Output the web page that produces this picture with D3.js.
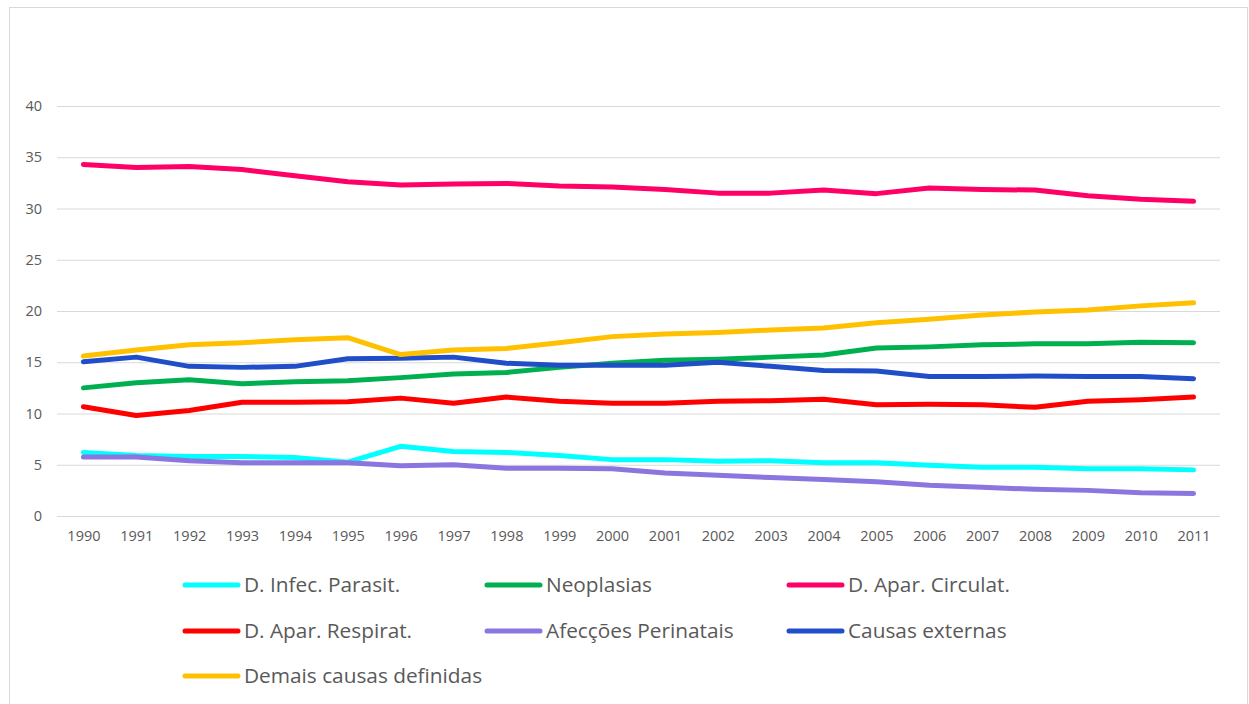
<!DOCTYPE html>
<html>
<head>
<meta charset="utf-8">
<script src="https://cdn.jsdelivr.net/npm/d3@7"></script>
<style>
  body { margin: 0; background: #fff; }
  text { font-family: "Open Sans", sans-serif; fill: #595959; }
</style>
</head>
<body>
<div id="chart"></div>
<script>
// Data
var years = ["1990","1991","1992","1993","1994","1995","1996","1997","1998","1999","2000",
             "2001","2002","2003","2004","2005","2006","2007","2008","2009","2010","2011"];

var infecParasit = [6.2,5.9,5.8,5.8,5.7,5.25,6.8,6.3,6.2,5.9,5.5,5.5,5.35,5.4,5.2,5.2,4.95,4.75,4.75,4.6,4.6,4.5];
var neoplasias   = [12.5,13.0,13.3,12.9,13.1,13.2,13.5,13.85,14.0,14.5,14.9,15.2,15.3,15.5,15.7,16.4,16.5,16.7,16.8,16.8,16.95,16.9];
var circulat     = [34.3,34.0,34.1,33.8,33.2,32.6,32.3,32.4,32.45,32.2,32.1,31.85,31.5,31.5,31.8,31.45,32.0,31.85,31.8,31.25,30.9,30.7];
var respirat     = [10.65,9.8,10.3,11.1,11.1,11.15,11.5,11.0,11.6,11.2,11.0,11.0,11.2,11.25,11.4,10.85,10.9,10.85,10.6,11.2,11.35,11.6];
var perinatais   = [5.75,5.75,5.4,5.2,5.2,5.2,4.9,5.0,4.65,4.65,4.6,4.2,3.97,3.75,3.55,3.35,3.0,2.8,2.6,2.5,2.27,2.2];
var causasExt    = [15.05,15.5,14.6,14.5,14.6,15.35,15.4,15.5,14.9,14.7,14.7,14.7,15.0,14.6,14.2,14.15,13.6,13.6,13.65,13.6,13.6,13.4];
var demais       = [15.6,16.2,16.7,16.9,17.2,17.4,15.75,16.2,16.35,16.9,17.5,17.75,17.9,18.15,18.35,18.85,19.2,19.6,19.9,20.1,20.5,20.8];

var seriesNames  = ["D. Infec. Parasit.","Neoplasias","D. Apar. Circulat.","D. Apar. Respirat.","Afecções Perinatais","Causas externas","Demais causas definidas"];
var seriesValues = [infecParasit, neoplasias, circulat, respirat, perinatais, causasExt, demais];
var seriesColors = ["#00FFFF","#00B050","#FF0066","#FF0000","#8B76E0","#1F4EC8","#FFC000"];
var yTicks = [0,5,10,15,20,25,30,35,40];

var svgWidth = 1249;
var svgHeight = 704;

var svg = d3.select("#chart")
  .append("svg")
  .attr("width", svgWidth)
  .attr("height", svgHeight);

// chart border
svg.append("rect")
  .attr("x", 9.5)
  .attr("y", 7.5)
  .attr("width", 1238)
  .attr("height", 720)
  .attr("fill", "none")
  .attr("stroke", "#D9D9D9")
  .attr("stroke-width", 1);

// plot area
var plot = { left: 57, right: 1220, top: 106, bottom: 516 };

var xScale = d3.scalePoint()
  .domain(years)
  .range([plot.left, plot.right])
  .padding(0.5);

var yScale = d3.scaleLinear()
  .domain([0, 40])
  .range([plot.bottom, plot.top]);

// gridlines
svg.append("g")
  .selectAll("line")
  .data(yTicks)
  .enter()
  .append("line")
  .attr("x1", plot.left)
  .attr("x2", plot.right)
  .attr("y1", d => yScale(d) + 0.5)
  .attr("y2", d => yScale(d) + 0.5)
  .attr("stroke", "#D9D9D9")
  .attr("stroke-width", 1);

// y axis
var leftAxis = d3.axisLeft(yScale).tickValues(yTicks).tickSize(0).tickPadding(15);
var yAxis = svg.append("g")
  .attr("transform", `translate(${plot.left}, 0)`)
  .call(leftAxis);
yAxis.select(".domain").remove();
yAxis.selectAll("text").style("font-size", "14.5px").style("font-family", "'Open Sans', sans-serif");

// x axis
var bottomAxis = d3.axisBottom(xScale).tickSize(0).tickPadding(15);
var xAxis = svg.append("g")
  .attr("transform", `translate(0, ${plot.bottom})`)
  .call(bottomAxis);
xAxis.select(".domain").remove();
xAxis.selectAll("text").style("font-size", "14.5px").style("font-family", "'Open Sans', sans-serif");

// lines
var line = d3.line()
  .x((d, i) => xScale(years[i]))
  .y(d => yScale(d));

seriesValues.forEach(function(vals, i) {
  svg.append("path")
    .datum(vals)
    .attr("d", line)
    .attr("fill", "none")
    .attr("stroke", seriesColors[i])
    .attr("stroke-width", 5)
    .attr("stroke-linecap", "round")
    .attr("stroke-linejoin", "round");
});

// legend
var legendCols = [185, 487, 789];
var legendRows = [585, 631, 676];

var legend = svg.append("g");
seriesNames.forEach(function(name, i) {
  var lx = legendCols[i % 3];
  var ly = legendRows[Math.floor(i / 3)];
  legend.append("line")
    .attr("x1", lx)
    .attr("x2", lx + 53)
    .attr("y1", ly)
    .attr("y2", ly)
    .attr("stroke", seriesColors[i])
    .attr("stroke-width", 5)
    .attr("stroke-linecap", "round");
  legend.append("text")
    .attr("x", lx + 59)
    .attr("y", ly)
    .attr("dy", "0.35em")
    .style("font-size", "20.8px")
    .text(name);
});
</script>
</body>
</html>
